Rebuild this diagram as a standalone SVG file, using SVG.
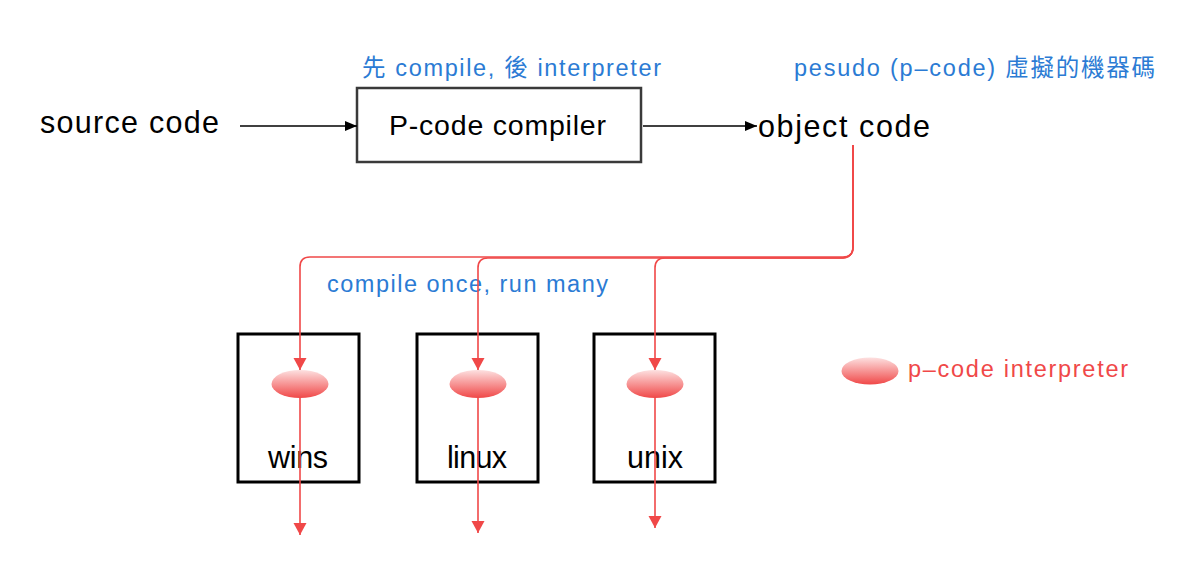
<svg xmlns="http://www.w3.org/2000/svg" width="1194" height="568" viewBox="0 0 1194 568">
<style>
.t{font-family:"Liberation Sans","Noto Sans CJK TC",sans-serif;fill:#000}
.big{font-size:30.5px}
.blue{font-family:"Liberation Sans","Noto Sans CJK TC",sans-serif;font-size:23.5px;fill:#2b7bd4}
.red{font-family:"Liberation Sans","Noto Sans CJK TC",sans-serif;font-size:23.5px;fill:#f04848}
.box{fill:none;stroke:#000;stroke-width:3}
.rl{fill:none;stroke:#f04848;stroke-width:1.6}
.bl{fill:none;stroke:#000;stroke-width:1.3}
.ell{fill:url(#g)}
</style>
<defs>
<linearGradient id="g" x1="0" y1="0" x2="0" y2="1">
<stop offset="0" stop-color="#fde0e0"/>
<stop offset="1" stop-color="#f04848"/>
</linearGradient>
<marker id="ra" markerWidth="14" markerHeight="14" refX="12" refY="6.5" orient="auto" markerUnits="userSpaceOnUse">
<path d="M0,0 L12,6.5 L0,13 Z" fill="#f04848"/>
</marker>
<marker id="ba" markerWidth="14" markerHeight="12" refX="12" refY="5" orient="auto" markerUnits="userSpaceOnUse">
<path d="M0,0 L12,5 L0,10 Z" fill="#000"/>
</marker>
</defs>
<rect width="1194" height="568" fill="#fff"/>

<g id="source"><text class="t big" x="40" y="133" textLength="179" lengthAdjust="spacing">source code</text></g>

<g id="compiler">
<rect x="357" y="88" width="284" height="74" fill="#fff" stroke="#3a3a3a" stroke-width="2.5"/>
<text class="t" font-size="28.5" x="389" y="135" textLength="217" lengthAdjust="spacing">P-code compiler</text>
</g>
<g id="label-compiler"><text class="blue" x="362" y="76" textLength="299" lengthAdjust="spacing">先 compile, 後 interpreter</text></g>

<g id="object"><text class="t big" x="758" y="137" textLength="172" lengthAdjust="spacing">object code</text></g>
<g id="label-object"><text class="blue" x="794" y="76" textLength="361" lengthAdjust="spacing">pesudo (p–code) 虛擬的機器碼</text></g>

<g id="label-once"><text class="blue" x="327" y="292" textLength="281" lengthAdjust="spacing">compile once, run many</text></g>

<g id="wins">
<rect class="box" x="238" y="334" width="121" height="148"/>
<ellipse class="ell" cx="300" cy="384" rx="28.5" ry="14"/>
<text class="t big" x="268" y="468" textLength="60" lengthAdjust="spacing">wins</text>
</g>
<g id="linux">
<rect class="box" x="417" y="334" width="121" height="148"/>
<ellipse class="ell" cx="478" cy="384" rx="28.5" ry="14"/>
<text class="t big" x="447" y="468" textLength="60" lengthAdjust="spacing">linux</text>
</g>
<g id="unix">
<rect class="box" x="594" y="334" width="121" height="148"/>
<ellipse class="ell" cx="655" cy="384" rx="28.5" ry="14"/>
<text class="t big" x="627" y="468" textLength="56" lengthAdjust="spacing">unix</text>
</g>

<g id="legend">
<ellipse class="ell" cx="870" cy="371" rx="28.5" ry="13.5"/>
<text class="red" x="908" y="377" textLength="220" lengthAdjust="spacing">p–code interpreter</text>
</g>

<g id="connectors">
<line class="bl" x1="240" y1="126" x2="357" y2="126" marker-end="url(#ba)"/>
<line class="bl" x1="643" y1="126" x2="757" y2="126" marker-end="url(#ba)"/>
<path class="rl" d="M853,145 V247 Q853,257 843,257 H310 Q300,257 300,267 V370" marker-end="url(#ra)"/>
<path class="rl" d="M853,145 V247 Q853,257 843,258 H488 Q478,258 478,268 V370" marker-end="url(#ra)"/>
<path class="rl" d="M853,145 V247 Q853,257 843,258 H665 Q655,258 655,268 V370" marker-end="url(#ra)"/>
<line class="rl" x1="300" y1="398" x2="300" y2="535" marker-end="url(#ra)"/>
<line class="rl" x1="478" y1="398" x2="478" y2="533" marker-end="url(#ra)"/>
<line class="rl" x1="655" y1="398" x2="655" y2="528" marker-end="url(#ra)"/>
</g>
</svg>
